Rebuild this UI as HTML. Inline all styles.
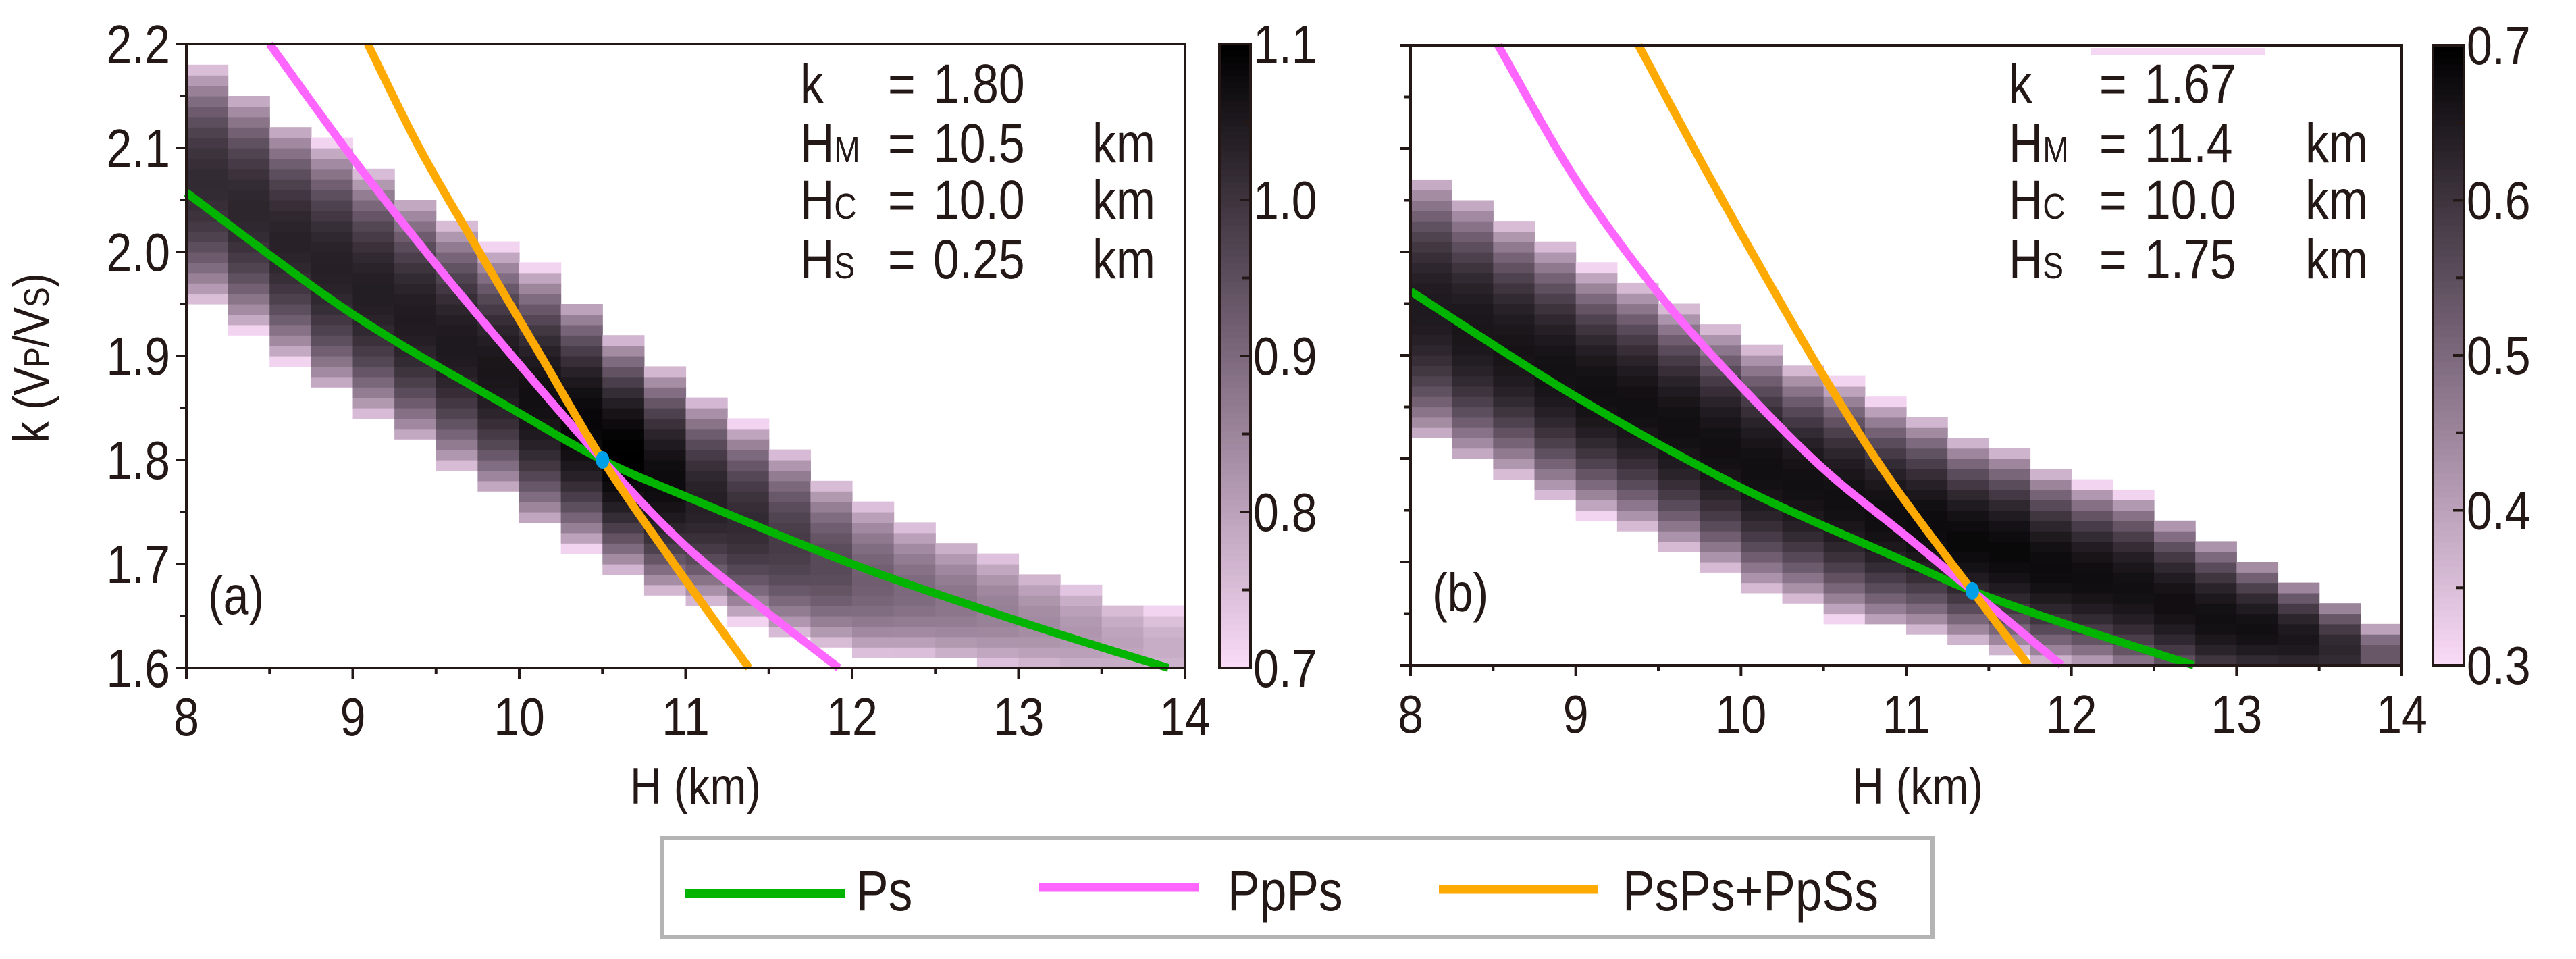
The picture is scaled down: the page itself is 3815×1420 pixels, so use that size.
<!DOCTYPE html>
<html><head><meta charset="utf-8"><style>
html,body{margin:0;padding:0;background:#fff;}
svg text{font-family:"Liberation Sans Narrow","Liberation Sans",sans-serif;fill:#231815;}
</style></head><body>
<svg id="fig" width="3815" height="1415" viewBox="0 0 3815 1415" xmlns="http://www.w3.org/2000/svg">
<g id="pa"></g>
<g id="pb"></g>
<text transform="translate(72,530) rotate(-90) scale(0.85,1)" text-anchor="middle" font-size="74">k (V<tspan font-size="52">P</tspan>/V<tspan font-size="52">S</tspan>)</text>
<text transform="translate(1030,1190) scale(0.85,1)" text-anchor="middle" font-size="76">H (km)</text>
<text transform="translate(2840,1190) scale(0.85,1)" text-anchor="middle" font-size="76">H (km)</text>
<g>
<rect x="980" y="1241" width="1882" height="147" fill="#fff" stroke="#b4b4b4" stroke-width="6"/>
<g><line x1="1015" y1="1323" x2="1251" y2="1323" stroke="#00b400" stroke-width="13"/><text transform="translate(1268,1348) scale(0.85,1)" font-size="84">Ps</text></g>
<g><line x1="1538" y1="1314" x2="1776" y2="1314" stroke="#ff66ff" stroke-width="13"/><text transform="translate(1818,1348) scale(0.85,1)" font-size="84">PpPs</text></g>
<g><line x1="2131" y1="1317" x2="2367" y2="1317" stroke="#ffaa00" stroke-width="13"/><text transform="translate(2403,1348) scale(0.85,1)" font-size="84">PsPs+PpSs</text></g>
</g>
</svg>
<script>
// ---- data ----
const heatH = [8.125,8.375,8.625,8.875,9.125,9.375,9.625,9.875,10.125,10.375,10.625,10.875,11.125,11.375,11.625,11.875,12.125,12.375,12.625,12.875,13.125,13.375,13.625,13.875];
const centerA = [2.065,2.04,2.01,1.985,1.96,1.935,1.91,1.885,1.86,1.835,1.805,1.78,1.76,1.74,1.72,1.70,1.685,1.675,1.665,1.655,1.645,1.635,1.625,1.62];
const widthA = [0.115,0.115,0.115,0.12,0.12,0.12,0.12,0.12,0.125,0.12,0.115,0.11,0.10,0.095,0.09,0.08,0.075,0.065,0.06,0.055,0.05,0.045,0.04,0.035];
const peakA = [0.8,0.82,0.84,0.85,0.86,0.87,0.88,0.9,0.93,0.97,1.0,0.95,0.85,0.8,0.72,0.65,0.55,0.5,0.45,0.4,0.35,0.3,0.25,0.2];
const centerB = [1.945,1.925,1.905,1.885,1.865,1.85,1.83,1.81,1.79,1.775,1.76,1.745,1.735,1.72,1.71,1.695,1.685,1.675,1.66,1.645,1.635,1.625,1.615,1.61];
const widthB = [0.13,0.13,0.125,0.125,0.12,0.12,0.12,0.12,0.12,0.115,0.115,0.11,0.105,0.10,0.10,0.095,0.09,0.09,0.085,0.08,0.07,0.06,0.05,0.03];
const peakB = [0.88,0.9,0.91,0.92,0.93,0.93,0.93,0.93,0.93,0.93,0.93,0.94,0.95,0.96,0.96,0.95,0.94,0.93,0.93,0.93,0.93,0.9,0.82,0.6];

const psA_H = [8,9,10,10.5,11,12,13,13.9];
const psA_K = [2.057,1.94,1.845,1.80,1.765,1.70,1.645,1.60];
const ppA_H = [8.5,9,9.5,10,10.5,11,11.5,11.92];
const ppA_K = [2.2,2.09,1.988,1.892,1.80,1.717,1.652,1.60];
const orA_H = [9.09,9.4,9.76,10.13,10.5,10.93,11.38];
const orA_K = [2.2,2.1,2.0,1.9,1.8,1.7,1.6];

const psB_H = [8,9,10,11,11.4,12,12.74];
const psB_K = [1.962,1.86,1.772,1.70,1.672,1.638,1.60];
const ppB_H = [8.53,9,9.5,10,10.5,11,11.4,11.94];
const ppB_K = [2.2,2.07,1.96,1.87,1.79,1.725,1.672,1.60];
const orB_H = [9.38,9.75,10.1,10.5,10.9,11.4,11.74];
const orB_K = [2.2,2.09,1.99,1.88,1.78,1.672,1.60];

const xTicks = [8,9,10,11,12,13,14];
const yTicks = [1.6,1.7,1.8,1.9,2.0,2.1,2.2];
const yTickLabels = ["1.6","1.7","1.8","1.9","2.0","2.1","2.2"];
const cbTicksA = ["0.7","0.8","0.9","1.0","1.1"];
const cbTicksB = ["0.3","0.4","0.5","0.6","0.7"];
const annA = ["1.80","10.5","10.0","0.25"];
const annB = ["1.67","11.4","10.0","1.75"];
const bestA = [10.5,1.80];
const bestB = [11.4,1.672];

const NS="http://www.w3.org/2000/svg";
function mk(tag,attrs,parent){const e=document.createElementNS(NS,tag);for(const k in attrs)e.setAttribute(k,attrs[k]);parent.appendChild(e);return e;}
function txt(parent,x,y,size,anchor){return mk('text',{transform:`translate(${x},${y}) scale(0.85,1)`,'font-size':size,'text-anchor':anchor||'start'},parent);}
function col(t){
  const c0=[249,218,247],c1=[125,105,125],c2=[0,0,0];let a,b,u;
  if(t<0.5){a=c0;b=c1;u=t/0.5;}else{a=c1;b=c2;u=(t-0.5)/0.5;}
  return `rgb(${Math.round(a[0]+(b[0]-a[0])*u)},${Math.round(a[1]+(b[1]-a[1])*u)},${Math.round(a[2]+(b[2]-a[2])*u)})`;
}
function smooth(P){
  let d='M'+P[0][0]+','+P[0][1];
  for(let i=0;i<P.length-1;i++){
    const p0=P[i-1]||P[i],p1=P[i],p2=P[i+1],p3=P[i+2]||P[i+1];
    d+=`C${p1[0]+(p2[0]-p0[0])/6},${p1[1]+(p2[1]-p0[1])/6} ${p2[0]-(p3[0]-p1[0])/6},${p2[1]-(p3[1]-p1[1])/6} ${p2[0]},${p2[1]}`;
  }
  return d;
}
function panel(g,L,R,T,B,cbx,cen,wid,pk,lines,best,ann,annX,cbLab,label,showY){
  const X=h=>L+(h-8)/6*(R-L), Y=k=>B-(k-1.6)/0.6*(B-T);
  const heat=mk('g',{},g);
  
  
  for(let i=0;i<heatH.length;i++){
    for(let j=0;j<60;j++){
      const k=1.6+j*0.01+0.005;const d=(k-cen[i])/wid[i];
      if(Math.abs(d)>1) continue;
      const t=Math.max(0.03,pk[i]*Math.pow(1-d*d,0.75));
      const r=mk('rect',{x:X(heatH[i]-0.125),y:Y(k+0.005),width:X(heatH[i]+0.125)-X(heatH[i]-0.125)+0.6,height:Y(1.6)-Y(1.61)+0.6,fill:col(t)},heat);
      
      
    }
  }
  const colors=['#00b400','#ff66ff','#ffaa00'],names=['ps-curve','ppps-curve','psps-ppss-curve'];
  lines.forEach((ln,n)=>{
    const P=ln[0].map((h,i)=>[X(h),Y(ln[1][i])]);
    const p=mk('path',{d:smooth(P),fill:'none',stroke:colors[n],'stroke-width':12,'stroke-linejoin':'round'},g);
    
    
  });
  const dot=mk('ellipse',{cx:X(best[0]),cy:Y(best[1]),rx:10,ry:13,fill:'#00a0e9'},g);
  
  
  const fr=mk('rect',{x:L,y:T,width:R-L,height:B-T,fill:'none',stroke:'#231815','stroke-width':4},g);
  
  
  for(let h=8;h<=14.001;h+=0.5){const maj=Math.abs(h-Math.round(h))<0.01;mk('line',{x1:X(h),x2:X(h),y1:B,y2:B+(maj?16:9),stroke:'#231815','stroke-width':4},g);}
  xTicks.forEach(h=>{const t=txt(g,X(h),B+100,80,'middle');t.textContent=h;
    });
  for(let k=1.6;k<=2.2001;k+=0.05){const maj=Math.abs(k*10-Math.round(k*10))<0.01;mk('line',{x1:L-(maj?16:9),x2:L,y1:Y(k),y2:Y(k),stroke:'#231815','stroke-width':4},g);}
  if(showY) yTicks.forEach((k,i)=>{const t=txt(g,L-24,Y(k)+28,80,'end');t.textContent=yTickLabels[i];
    });
  const cg=mk('g',{},g);
  
  
  for(let s=0;s<100;s++){mk('rect',{x:cbx,y:B-(s+1)*(B-T)/100,width:46,height:(B-T)/100+0.8,fill:col(s/99)},cg);}
  mk('rect',{x:cbx,y:T,width:46,height:B-T,fill:'none',stroke:'#231815','stroke-width':4},cg);
  for(let s=0;s<=8;s++){const yy=B-s*(B-T)/8;mk('line',{x1:cbx+46,x2:cbx+(s%2?34:30),y1:yy,y2:yy,stroke:'#231815','stroke-width':4},cg);}
  cbLab.forEach((v,i)=>{const t=txt(cg,cbx+50,B-i*(B-T)/4+28,80);t.textContent=v;
    });
  const ag=mk('g',{},g);
  
  
  const subs=['','M','C','S'],ys=[152,240,324,412];
  for(let i=0;i<4;i++){
    const t=txt(ag,annX[0],ys[i],82);
    t.innerHTML=i==0?'k':'H<tspan font-size="54">'+subs[i]+'</tspan>';
    const e=txt(ag,annX[1],ys[i],82);e.textContent='=';
    const v=txt(ag,annX[2],ys[i],82);v.textContent=ann[i];
    if(i>0){const u=txt(ag,annX[3],ys[i],82);u.textContent='km';}
  }
  const lb=txt(g,L+32,B-80,80);lb.textContent=label;
  
}
panel(document.getElementById('pa'),276,1755,65,989,1806,centerA,widthA,peakA,
  [[psA_H,psA_K],[ppA_H,ppA_K],[orA_H,orA_K]],bestA,annA,[1185,1315,1382,1618],cbTicksA,'(a)',true);
panel(document.getElementById('pb'),2089,3557,67,985,3603,centerB,widthB,peakB,
  [[psB_H,psB_K],[ppB_H,ppB_K],[orB_H,orB_K]],bestB,annB,[2975,3109,3176,3414],cbTicksB,'(b)',false);
// faint artifact strip at top of panel b
const strip=mk('rect',{x:3096,y:71,width:258,height:10,fill:'rgb(245,215,243)'},document.getElementById('pb'));


</script>
</body></html>
